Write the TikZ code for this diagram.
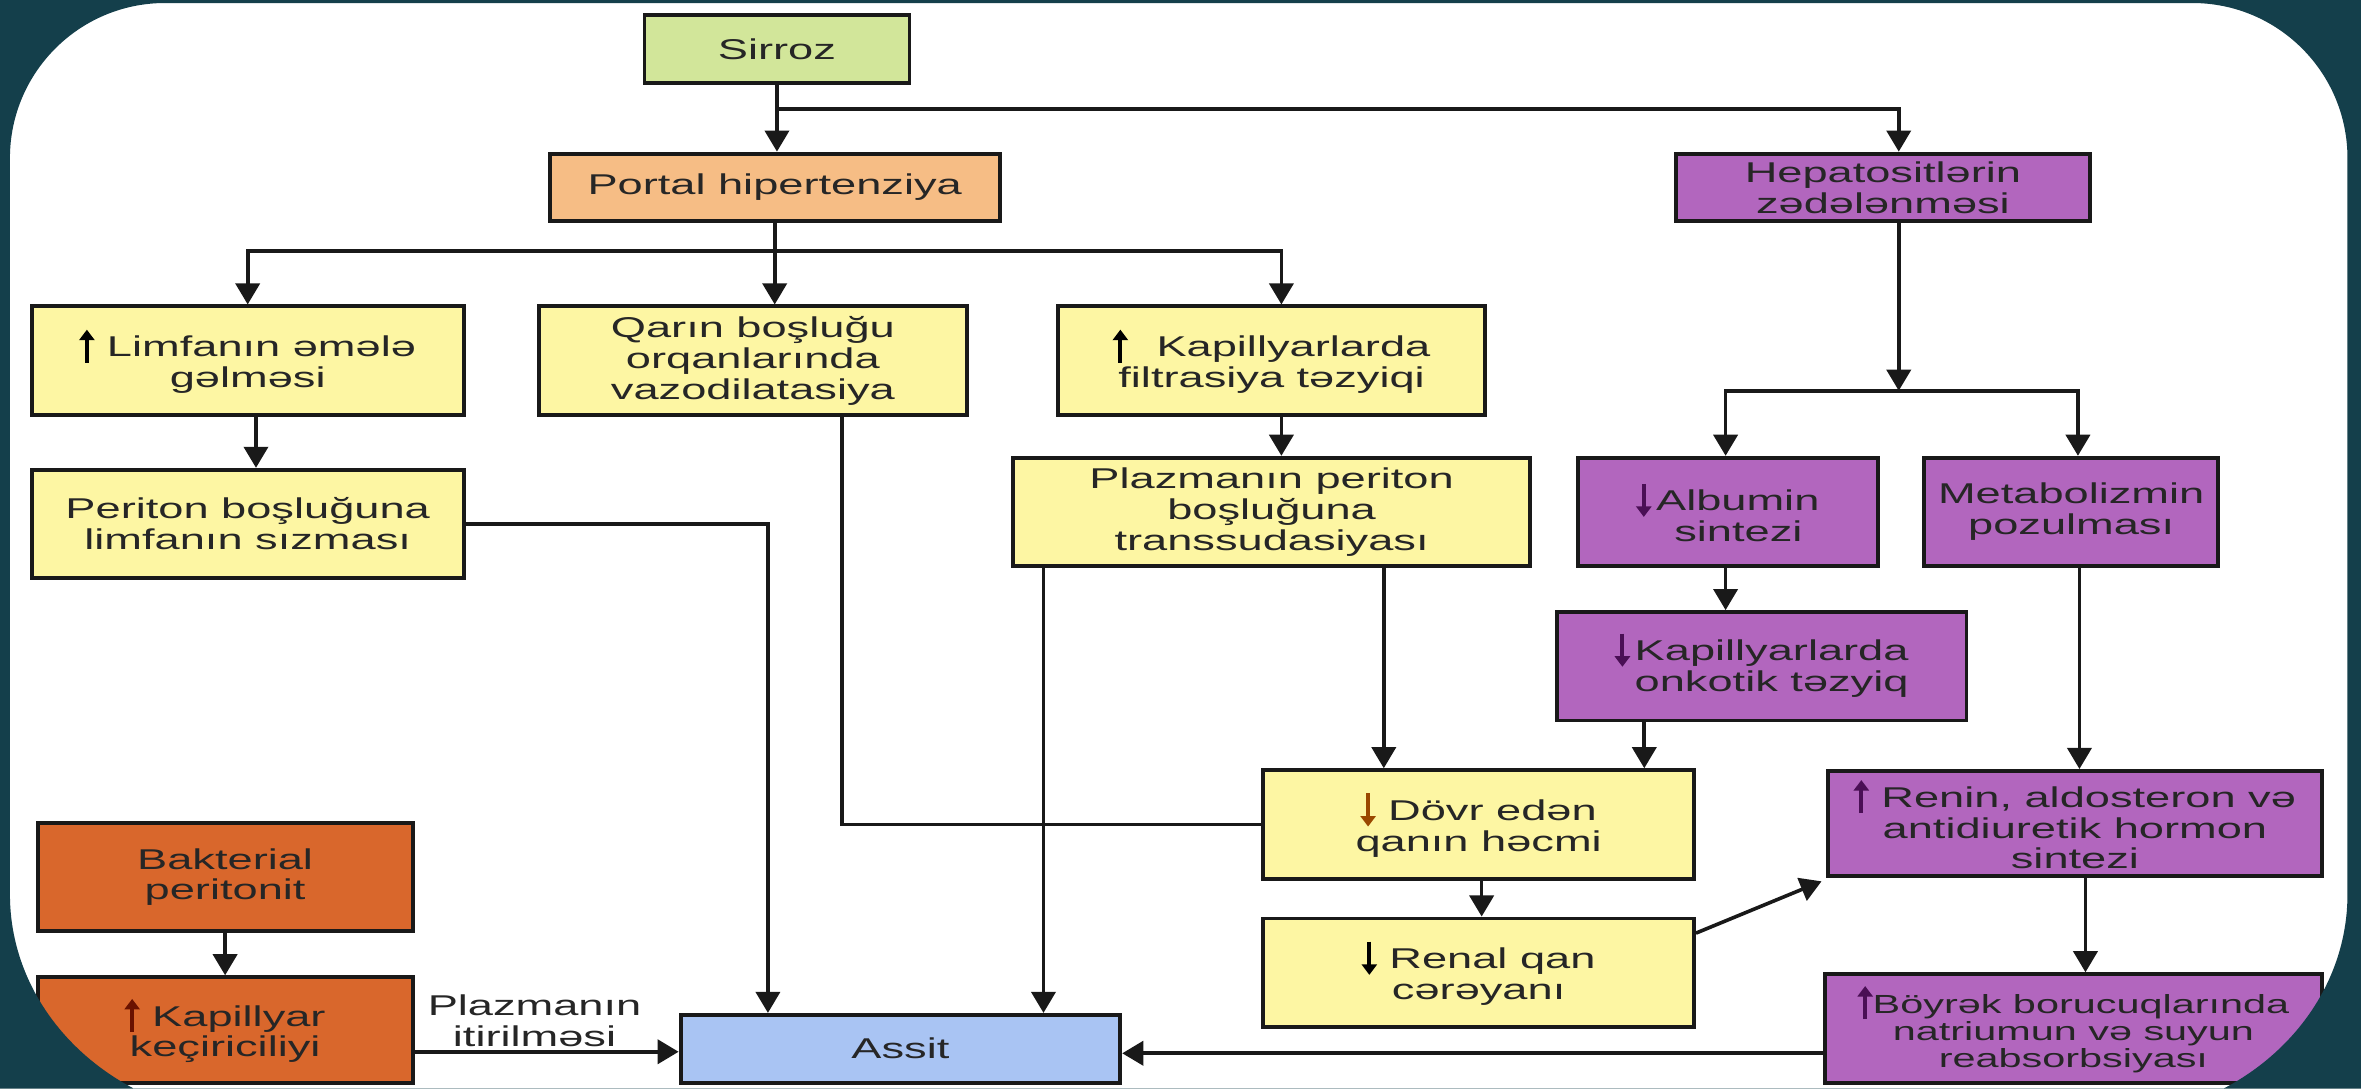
\documentclass[tikz,border=0pt]{standalone}
\usepackage{fontspec}
\setmainfont{Liberation Sans}[FakeStretch=1.58]
\usetikzlibrary{positioning,calc,arrows.meta}

\definecolor{frame}{HTML}{143F4B}
\definecolor{fillG}{HTML}{D2E69A}
\definecolor{fillO}{HTML}{F6BD85}
\definecolor{fillP}{HTML}{B266BE}
\definecolor{fillY}{HTML}{FDF6A3}
\definecolor{fillR}{HTML}{D9672C}
\definecolor{fillB}{HTML}{A9C4F3}
\definecolor{arrP}{HTML}{4A0F55}
\definecolor{arrR}{HTML}{6A1200}
\definecolor{arrY}{HTML}{9A4800}

% small up / down marks inside the boxes
\newcommand{\incr}[1]{\tikz[baseline=0pt]\draw[draw=#1,line width=2.6pt,-{Triangle[length=7pt,width=10pt]}] (0pt,-4pt) -- (0pt,18pt);}
\newcommand{\decr}[1]{\tikz[baseline=0pt]\draw[draw=#1,line width=2.6pt,-{Triangle[length=7pt,width=10pt]}] (0pt,18pt) -- (0pt,-4pt);}

\begin{document}
\begin{tikzpicture}[x=1pt,y=1pt]
    \tikzstyle{every node}=[font=\fontsize{19}{20.5}\selectfont,text=black!85]
    \tikzstyle{box}=[draw=black!90,line width=2.6,rectangle,align=center,inner sep=2,minimum height=72]
    \tikzstyle{boxG}=[box,fill=fillG,minimum height=45]
    \tikzstyle{boxO}=[box,fill=fillO,minimum height=45]
    \tikzstyle{boxP}=[box,fill=fillP]
    \tikzstyle{boxY}=[box,fill=fillY]
    \tikzstyle{boxR}=[box,fill=fillR]
    \tikzstyle{boxB}=[box,fill=fillB,minimum height=45]
    \tikzstyle{note}=[draw=none,align=center,inner sep=0]
    \tikzstyle{conn}=[line width=2.4,draw=black!90]
    \tikzstyle{arr}=[conn,-{Triangle[length=14pt,width=16pt]}]

    \useasboundingbox (0,0) rectangle (1568,-723);
    \fill[white] (0,0) rectangle (1568,-723);

    % top level
    \node[boxG,minimum width=176] (sirroz) at (516,-32.5) {Sirroz};
    \node[boxO,minimum width=299] (portal) at (514.5,-124.5) {Portal hipertenziya};
    \node[boxP,minimum width=275,minimum height=45] (hepat) at (1250.5,-124.5) {Hepatositlərin\\zədələnməsi};

    % portal branch
    \node[boxY,minimum width=287] (limf) at (164.5,-239.5) {\incr{black} Limfanın əmələ\\gəlməsi};
    \node[boxY,minimum width=284] (qarin) at (500,-239.5) {Qarın boşluğu\\orqanlarında\\vazodilatasiya};
    \node[boxY,minimum width=284] (filtr) at (844.5,-239.5) {\incr{black}\quad Kapillyarlarda\\filtrasiya təzyiqi};
    \node[boxY,minimum width=287] (periton) at (164.5,-348) {Periton boşluğuna\\limfanın sızması};
    \node[boxY,minimum width=343] (plazma) at (844.5,-340) {Plazmanın periton\\boşluğuna\\transsudasiyası};

    % liver branch
    \node[boxP,minimum width=199] (albumin) at (1147.5,-340) {\decr{arrP}\,Albumin\\\hspace{14pt}sintezi};
    \node[boxP,minimum width=195] (metab) at (1375.5,-340) {Metabolizmin\\pozulması};
    \node[boxP,minimum width=272] (onkotik) at (1170,-442.5) {\decr{arrP}\,\begin{tabular}[t]{@{}l@{}}Kapillyarlarda\\onkotik təzyiq\end{tabular}};
    \node[boxY,minimum width=286] (dovr) at (982,-547.5) {\decr{arrY} Dövr edən\\qanın həcmi};
    \node[boxP,minimum width=328,minimum height=70] (renin) at (1378,-547) {\incr{arrP} Renin, aldosteron və\\antidiuretik hormon\\sintezi};
    \node[boxY,minimum width=286] (renal) at (982,-646) {\decr{black} Renal qan\\cərəyanı};
    \node[boxP,minimum width=330,font=\fontsize{17.4}{18}\selectfont] (boyrek) at (1377,-683) {\incr{arrP}Böyrək borucuqlarında\\natriumun və suyun\\reabsorbsiyası};

    % infection
    \node[boxR,minimum width=249] (bakter) at (149.5,-582.5) {Bakterial\\peritonit};
    \node[boxR,minimum width=249,minimum height=70] (kapil) at (149.5,-684) {\incr{arrR} Kapillyar\\keçiriciliyi};
    \node[boxB,minimum width=292] (assit) at (598,-696.5) {Assit};
    \node[note] (itir) at (355,-678) {Plazmanın\\itirilməsi};

    \coordinate (s1) at (516,-72.5);
    \coordinate (p1) at (514.5,-166.5);
    \coordinate (h1) at (1261,-259.5);

    \draw[arr] (sirroz.south) -- (sirroz.south |- portal.north);
    \draw[arr] (s1) -| ([xshift=10.5]hepat.north);
    \draw[conn] (portal.south) -- (p1);
    \draw[arr] (p1) -| (limf.north);
    \draw[arr] (p1) -- (p1 |- qarin.north);
    \draw[arr] (p1) -| ([xshift=6.5]filtr.north);
    \draw[arr] ([xshift=5.5]limf.south) -- ([xshift=5.5]periton.north);
    \draw[arr] (periton.east) -| ([xshift=-88]assit.north);
    \draw[conn] ([xshift=59]qarin.south) |- (dovr.west);
    \draw[arr] ([xshift=6.5]filtr.south) -- ([xshift=6.5]plazma.north);
    \draw[arr] ([xshift=-151.5]plazma.south) -- ([xshift=-151.5]plazma.south |- assit.north);
    \draw[arr] ([xshift=74.5]plazma.south) -- ([xshift=74.5]plazma.south |- dovr.north);

    \draw[arr] ([xshift=10.5]hepat.south) -- (h1);
    \draw[arr] (h1) -| ([xshift=-1.5]albumin.north);
    \draw[arr] (h1) -| ([xshift=4.5]metab.north);
    \draw[arr] ([xshift=-1.5]albumin.south) -- ([xshift=-1.5]albumin.south |- onkotik.north);
    \draw[arr] ([xshift=-78]onkotik.south) -- ([xshift=-78]onkotik.south |- dovr.north);
    \draw[arr] ([xshift=5.5]metab.south) -- ([xshift=5.5]metab.south |- renin.north);
    \draw[arr] ([xshift=2]dovr.south) -- ([xshift=2]dovr.south |- renal.north);
    \draw[arr] ([yshift=-11]renal.north east) -- ([shift={(-3,-2)}]renin.south west);
    \draw[arr] ([xshift=7]renin.south) -- ([xshift=7]renin.south |- boyrek.north);
    \draw[arr] ([yshift=-16.5]boyrek.west) -- ([yshift=-16.5]boyrek.west -| assit.east);
    \draw[arr] ([yshift=-14.5]kapil.east) -- ([yshift=-14.5]kapil.east -| assit.west);
    \draw[arr] (bakter.south) -- (kapil.north);

    % slide frame over everything
    \fill[frame,even odd rule] (0,0) rectangle (1568,-723)
        (109.6,-2) -- (1456,-2) arc[start angle=90,end angle=0,radius=103]
        -- (1559,-594) arc[start angle=0,end angle=-90,x radius=165,y radius=149]
        -- (171.6,-743) arc[start angle=270,end angle=180,x radius=165,y radius=149]
        -- (6.6,-105) arc[start angle=180,end angle=90,radius=103] -- cycle;
\end{tikzpicture}
\end{document}
